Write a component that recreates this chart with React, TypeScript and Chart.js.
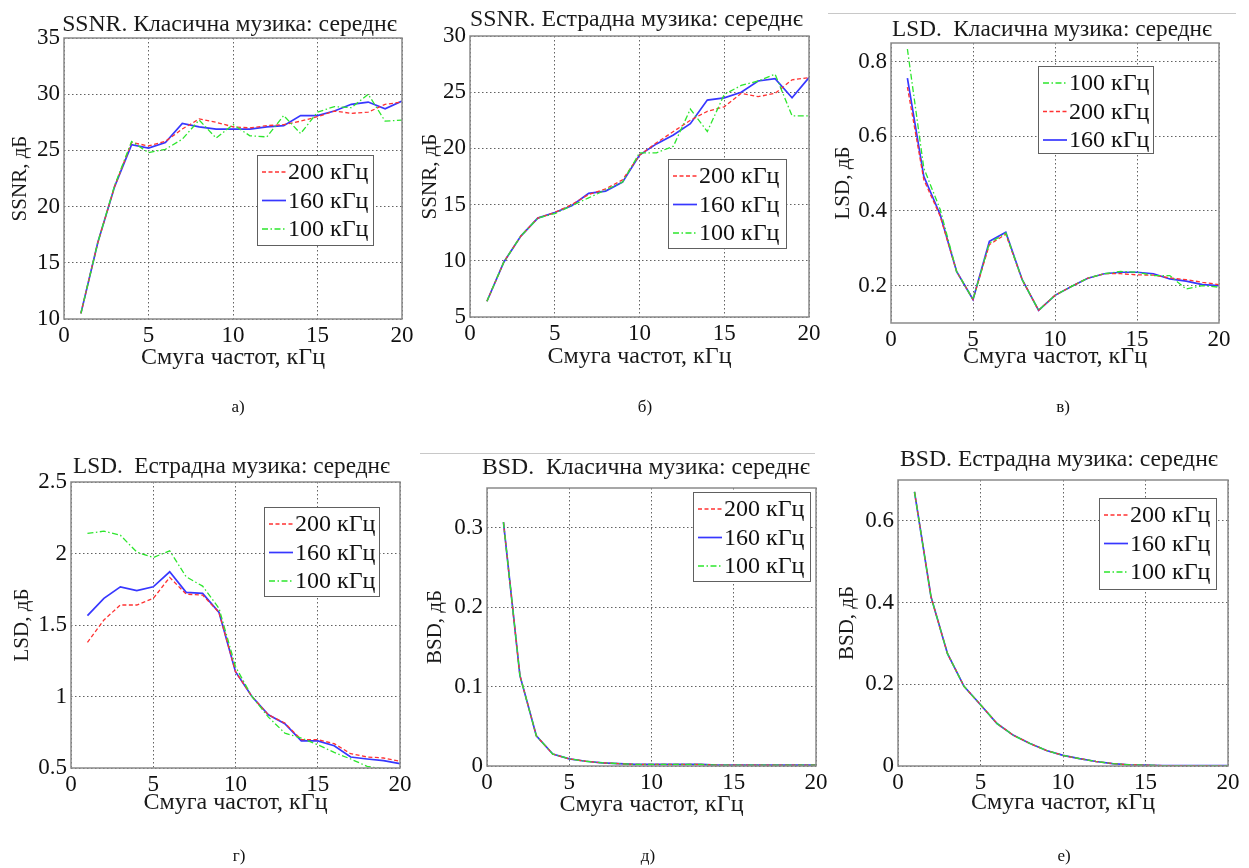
import React, { useEffect, useRef } from "react";
import { Chart, registerables } from "chart.js";
Chart.register(...registerables);

const W = 1249;
const H = 868;
const FONT = '"Liberation Serif", "Times New Roman", serif';

// ---------- data ----------
const bandKHz = [1, 2, 3, 4, 5, 6, 7, 8, 9, 10, 11, 12, 13, 14, 15, 16, 17, 18, 19, 20];
const xTicks = [0, 5, 10, 15, 20];

const ssnrClassic200 = [10.5, 16.8, 21.8, 25.7, 25.4, 25.8, 26.9, 27.8, 27.5, 27.1, 27.0, 27.2, 27.3, 27.6, 28.0, 28.5, 28.3, 28.4, 29.1, 29.3];
const ssnrClassic160 = [10.5, 16.8, 21.8, 25.5, 25.2, 25.7, 27.4, 27.1, 26.9, 26.9, 26.9, 27.1, 27.2, 28.1, 28.1, 28.5, 29.1, 29.3, 28.7, 29.4];
const ssnrClassic100 = [10.5, 16.8, 21.9, 25.8, 24.8, 25.1, 26.0, 27.7, 26.1, 27.3, 26.3, 26.2, 28.1, 26.5, 28.4, 28.9, 28.8, 30.0, 27.6, 27.7];
const ssnrClassicTicks = [10, 15, 20, 25, 30, 35];

const ssnrPop200 = [6.4, 9.9, 12.2, 13.8, 14.3, 15.0, 15.9, 16.4, 17.2, 19.4, 20.5, 21.5, 22.5, 23.3, 23.7, 24.9, 24.6, 24.9, 26.1, 26.3];
const ssnrPop160 = [6.4, 9.9, 12.2, 13.8, 14.3, 14.9, 16.0, 16.2, 17.0, 19.4, 20.4, 21.2, 22.2, 24.3, 24.5, 25.0, 26.0, 26.2, 24.5, 26.3];
const ssnrPop100 = [6.4, 9.9, 12.2, 13.8, 14.2, 14.9, 15.6, 16.3, 17.0, 19.6, 19.6, 20.2, 23.5, 21.5, 24.8, 25.6, 26.0, 26.6, 22.9, 22.9];
const ssnrPopTicks = [5, 10, 15, 20, 25, 30];

const lsdClassic100 = [0.834, 0.515, 0.404, 0.238, 0.163, 0.314, 0.341, 0.216, 0.134, 0.174, 0.198, 0.22, 0.232, 0.238, 0.236, 0.227, 0.227, 0.191, 0.2, 0.196];
const lsdClassic200 = [0.732, 0.484, 0.386, 0.238, 0.163, 0.31, 0.338, 0.216, 0.134, 0.174, 0.198, 0.22, 0.232, 0.232, 0.229, 0.228, 0.221, 0.216, 0.209, 0.203];
const lsdClassic160 = [0.756, 0.493, 0.39, 0.238, 0.163, 0.319, 0.343, 0.216, 0.134, 0.174, 0.198, 0.22, 0.232, 0.236, 0.236, 0.232, 0.218, 0.212, 0.203, 0.2];
const lsdClassicTicks = [0.2, 0.4, 0.6, 0.8];

const lsdPop200 = [1.379, 1.535, 1.64, 1.64, 1.686, 1.833, 1.716, 1.709, 1.588, 1.174, 1.0, 0.872, 0.814, 0.698, 0.698, 0.67, 0.6, 0.577, 0.57, 0.547];
const lsdPop160 = [1.565, 1.686, 1.767, 1.74, 1.767, 1.872, 1.728, 1.721, 1.588, 1.174, 1.0, 0.872, 0.81, 0.69, 0.69, 0.656, 0.577, 0.563, 0.551, 0.53];
const lsdPop100 = [2.14, 2.156, 2.128, 2.01, 1.972, 2.019, 1.837, 1.772, 1.616, 1.209, 1.0, 0.856, 0.744, 0.709, 0.663, 0.609, 0.563, 0.512, 0.493, 0.48];
const lsdPopTicks = [0.5, 1, 1.5, 2, 2.5];

const bsdClassic200 = [0.307, 0.114, 0.038, 0.015, 0.009, 0.006, 0.004, 0.003, 0.002, 0.002, 0.002, 0.002, 0.002, 0.001, 0.001, 0.001, 0.001, 0.001, 0.001, 0.001];
const bsdClassic160 = [0.307, 0.114, 0.038, 0.015, 0.009, 0.006, 0.004, 0.003, 0.002, 0.002, 0.002, 0.002, 0.002, 0.001, 0.001, 0.001, 0.001, 0.001, 0.001, 0.001];
const bsdClassic100 = [0.307, 0.114, 0.038, 0.015, 0.009, 0.006, 0.004, 0.003, 0.002, 0.002, 0.002, 0.002, 0.002, 0.001, 0.001, 0.001, 0.001, 0.001, 0.001, 0.001];
const bsdClassicTicks = [0, 0.1, 0.2, 0.3];

const bsdPop200 = [0.671, 0.414, 0.275, 0.195, 0.15, 0.104, 0.075, 0.055, 0.038, 0.026, 0.018, 0.011, 0.006, 0.003, 0.002, 0.001, 0.001, 0.001, 0.001, 0.001];
const bsdPop160 = [0.671, 0.414, 0.275, 0.195, 0.15, 0.104, 0.075, 0.055, 0.038, 0.026, 0.018, 0.011, 0.006, 0.003, 0.002, 0.001, 0.001, 0.001, 0.001, 0.001];
const bsdPop100 = [0.671, 0.414, 0.275, 0.195, 0.15, 0.104, 0.075, 0.055, 0.038, 0.026, 0.018, 0.011, 0.006, 0.003, 0.002, 0.001, 0.001, 0.001, 0.001, 0.001];
const bsdPopTicks = [0, 0.2, 0.4, 0.6];

const xTitle = "Смуга частот, кГц";

// ---------- styles ----------
const STYLE: Record<string, { color: string; width: number; dash: number[]; order: number }> = {
  r: { color: "rgb(255,50,50)", width: 1.3, dash: [4, 2.5], order: 1 },
  b: { color: "rgb(55,55,255)", width: 1.7, dash: [], order: 2 },
  g: { color: "rgb(45,230,45)", width: 1.3, dash: [6, 2.5, 1.5, 2.5], order: 0 },
};

const YW = 50;
const XH = 40;
const TICK_SIZE = 23;
const LEGEND_SIZE = 24;
const X_TITLE_SIZE = 24;
const Y_TITLE_SIZE = 21;

type Series = { label: string; data: number[]; kind: string };
type Panel = {
  key: string;
  title: string;
  yTitle: string;
  yMin: number;
  yMax: number;
  yTicks: number[];
  series: Series[];
  L: {
    box: number[];
    title: number[]; // cx, cy, width
    yTitleX: number;
    xTitleY: number;
    legend: number[];
    tag: number[];
    tagText: string;
    sep?: number[];
  };
};

const panels: Panel[] = [
  {
    key: "a",
    title: "SSNR. Класична музика: середнє",
    yTitle: "SSNR, дБ",
    yMin: 10, yMax: 35, yTicks: ssnrClassicTicks,
    series: [
      { label: "200 кГц", data: ssnrClassic200, kind: "r" },
      { label: "160 кГц", data: ssnrClassic160, kind: "b" },
      { label: "100 кГц", data: ssnrClassic100, kind: "g" },
    ],
    L: { box: [64, 38, 402, 319], title: [229.5, 25, 335], yTitleX: 20, xTitleY: 358, legend: [257, 155, 116, 90], tag: [238, 408], tagText: "а)" },
  },
  {
    key: "b",
    title: "SSNR. Естрадна музика: середнє",
    yTitle: "SSNR, дБ",
    yMin: 5, yMax: 30, yTicks: ssnrPopTicks,
    series: [
      { label: "200 кГц", data: ssnrPop200, kind: "r" },
      { label: "160 кГц", data: ssnrPop160, kind: "b" },
      { label: "100 кГц", data: ssnrPop100, kind: "g" },
    ],
    L: { box: [470, 36, 809, 317], title: [636.5, 20, 333], yTitleX: 430, xTitleY: 357, legend: [668, 159, 118, 89], tag: [645, 408], tagText: "б)" },
  },
  {
    key: "c",
    title: "LSD.  Класична музика: середнє",
    yTitle: "LSD, дБ",
    yMin: 0.1, yMax: 0.85, yTicks: lsdClassicTicks,
    series: [
      { label: "100 кГц", data: lsdClassic100, kind: "g" },
      { label: "200 кГц", data: lsdClassic200, kind: "r" },
      { label: "160 кГц", data: lsdClassic160, kind: "b" },
    ],
    L: { box: [891, 43, 1219, 323], title: [1052, 30, 320], yTitleX: 843, xTitleY: 357, legend: [1038, 66, 115, 87], tag: [1063, 408], tagText: "в)", sep: [828, 1236, 13] },
  },
  {
    key: "d",
    title: "LSD.  Естрадна музика: середнє",
    yTitle: "LSD, дБ",
    yMin: 0.5, yMax: 2.5, yTicks: lsdPopTicks,
    series: [
      { label: "200 кГц", data: lsdPop200, kind: "r" },
      { label: "160 кГц", data: lsdPop160, kind: "b" },
      { label: "100 кГц", data: lsdPop100, kind: "g" },
    ],
    L: { box: [71, 482, 400, 768], title: [231.5, 467, 317], yTitleX: 22, xTitleY: 803, legend: [264, 507, 115, 89], tag: [239, 857], tagText: "г)" },
  },
  {
    key: "e",
    title: "BSD.  Класична музика: середнє",
    yTitle: "BSD, дБ",
    yMin: 0, yMax: 0.35, yTicks: bsdClassicTicks,
    series: [
      { label: "200 кГц", data: bsdClassic200, kind: "r" },
      { label: "160 кГц", data: bsdClassic160, kind: "b" },
      { label: "100 кГц", data: bsdClassic100, kind: "g" },
    ],
    L: { box: [487, 488, 816, 766], title: [646, 468, 328], yTitleX: 435, xTitleY: 805, legend: [693, 492, 117, 89], tag: [648, 857], tagText: "д)", sep: [420, 815, 453] },
  },
  {
    key: "f",
    title: "BSD. Естрадна музика: середнє",
    yTitle: "BSD, дБ",
    yMin: 0, yMax: 0.7, yTicks: bsdPopTicks,
    series: [
      { label: "200 кГц", data: bsdPop200, kind: "r" },
      { label: "160 кГц", data: bsdPop160, kind: "b" },
      { label: "100 кГц", data: bsdPop100, kind: "g" },
    ],
    L: { box: [898, 480, 1228, 766], title: [1059, 460, 318], yTitleX: 847, xTitleY: 803, legend: [1099, 498, 117, 91], tag: [1064, 857], tagText: "е)" },
  },
];

function makeDecor(p: Panel) {
  return {
    id: "decor_" + p.key,
    afterDraw(chart: any) {
      const { ctx, chartArea: ca } = chart;
      const L = p.L;
      ctx.save();
      // plot box
      ctx.setLineDash([]);
      ctx.strokeStyle = "#8a8a8a";
      ctx.lineWidth = 1.5;
      ctx.strokeRect(ca.left, ca.top, ca.right - ca.left, ca.bottom - ca.top);

      // title (fit to measured width)
      ctx.fillStyle = "#1a1a1a";
      ctx.textBaseline = "middle";
      ctx.textAlign = "center";
      ctx.font = `20px ${FONT}`;
      const tw = ctx.measureText(p.title).width;
      const ts = Math.max(16, Math.min(26, (20 * L.title[2]) / tw));
      ctx.font = `${ts}px ${FONT}`;
      ctx.fillText(p.title, L.title[0], L.title[1]);

      // axis titles
      ctx.font = `${X_TITLE_SIZE}px ${FONT}`;
      ctx.fillText(xTitle, (ca.left + ca.right) / 2, L.xTitleY);
      ctx.save();
      ctx.translate(L.yTitleX, (ca.top + ca.bottom) / 2);
      ctx.rotate(-Math.PI / 2);
      ctx.font = `${Y_TITLE_SIZE}px ${FONT}`;
      ctx.fillText(p.yTitle, 0, 0);
      ctx.restore();

      // legend
      const [lx, ly, lw, lh] = L.legend;
      ctx.fillStyle = "#fff";
      ctx.fillRect(lx, ly, lw, lh);
      ctx.strokeStyle = "#606060";
      ctx.lineWidth = 1;
      ctx.strokeRect(lx + 0.5, ly + 0.5, lw, lh);
      p.series.forEach((s, i) => {
        const st = STYLE[s.kind];
        const cy = ly + 17 + i * 28.5;
        ctx.strokeStyle = st.color;
        ctx.lineWidth = st.width;
        ctx.setLineDash(st.dash);
        ctx.beginPath();
        ctx.moveTo(lx + 5, cy);
        ctx.lineTo(lx + 29, cy);
        ctx.stroke();
        ctx.setLineDash([]);
        ctx.fillStyle = "#111";
        ctx.textAlign = "left";
        ctx.font = `${LEGEND_SIZE}px ${FONT}`;
        ctx.fillText(s.label, lx + 31, cy + 1);
      });

      // panel tag
      ctx.fillStyle = "#111";
      ctx.textAlign = "center";
      ctx.font = `17px ${FONT}`;
      ctx.fillText(L.tagText, L.tag[0], L.tag[1]);

      // separator line
      if (L.sep) {
        ctx.strokeStyle = "#c8c8c8";
        ctx.lineWidth = 1;
        ctx.beginPath();
        ctx.moveTo(L.sep[0], L.sep[2] + 0.5);
        ctx.lineTo(L.sep[1], L.sep[2] + 0.5);
        ctx.stroke();
      }
      ctx.restore();
    },
  };
}

const GRID = "rgba(70,70,70,0.85)";

function PanelChart({ p }: { p: Panel }) {
  const ref = useRef<HTMLCanvasElement | null>(null);
  useEffect(() => {
    if (!ref.current) return;
    const box = p.L.box;
    const tickFont = { family: FONT, size: TICK_SIZE };
    const chart = new Chart(ref.current, {
      type: "line",
      data: {
        datasets: p.series.map((s) => {
          const st = STYLE[s.kind];
          return {
            label: s.label,
            data: bandKHz.map((x, i) => ({ x, y: s.data[i] })),
            borderColor: st.color,
            backgroundColor: st.color,
            borderWidth: st.width,
            borderDash: st.dash,
            pointRadius: 0,
            fill: false,
            tension: 0,
            order: st.order,
          };
        }),
      },
      options: {
        responsive: false,
        animation: false,
        devicePixelRatio: 1,
        layout: {
          autoPadding: false,
          padding: { left: box[0] - YW, top: box[1], right: W - box[2], bottom: H - box[3] - XH },
        },
        plugins: { legend: { display: false }, tooltip: { enabled: false }, title: { display: false } },
        scales: {
          x: {
            type: "linear",
            min: 0,
            max: 20,
            afterBuildTicks: (s: any) => {
              s.ticks = xTicks.map((v) => ({ value: v }));
            },
            afterFit: (s: any) => {
              s.height = XH;
              s.paddingLeft = 0; s.paddingRight = 0; s.paddingTop = 0; s.paddingBottom = 0;
            },
            grid: { color: GRID, lineWidth: 1, drawTicks: false },
            border: { display: false, dash: [1.5, 2.5] },
            ticks: { color: "#111", font: tickFont, padding: 3, maxRotation: 0, autoSkip: false, callback: (v: any) => String(v) },
          },
          y: {
            type: "linear",
            min: p.yMin,
            max: p.yMax,
            afterBuildTicks: (s: any) => {
              s.ticks = p.yTicks.map((v) => ({ value: v }));
            },
            afterFit: (s: any) => {
              s.width = YW;
              s.paddingLeft = 0; s.paddingRight = 0; s.paddingTop = 0; s.paddingBottom = 0;
            },
            grid: { color: GRID, lineWidth: 1, drawTicks: false },
            border: { display: false, dash: [1.5, 2.5] },
            ticks: { color: "#111", font: tickFont, padding: 4, autoSkip: false, callback: (v: any) => String(v) },
          },
        },
      } as any,
      plugins: [makeDecor(p)],
    });
    return () => chart.destroy();
  }, [p]);
  return (
    <canvas
      ref={ref}
      width={W}
      height={H}
      style={{ position: "absolute", left: 0, top: 0, width: W, height: H }}
    />
  );
}

export default function App() {
  return (
    <div style={{ position: "fixed", left: 0, top: 0, width: W, height: H, background: "#fff" }}>
      {panels.map((p) => (
        <PanelChart key={p.key} p={p} />
      ))}
    </div>
  );
}
